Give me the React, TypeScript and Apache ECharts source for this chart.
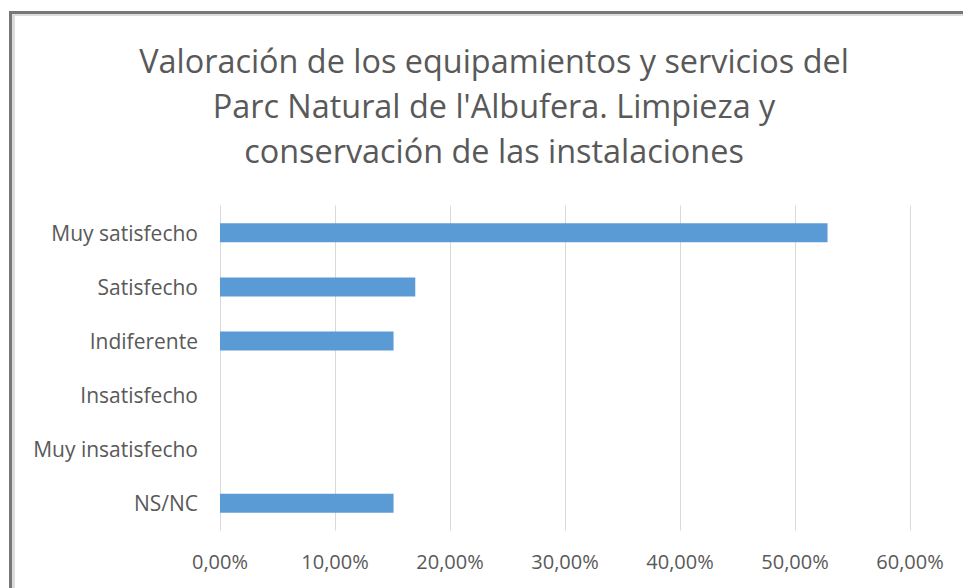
import React, { useEffect, useRef } from "react";
import * as echarts from "echarts";

const categories = [
  "Muy satisfecho",
  "Satisfecho",
  "Indiferente",
  "Insatisfecho",
  "Muy insatisfecho",
  "NS/NC",
];
const values = [52.83, 16.98, 15.09, 0, 0, 15.09];
const xTicks = [0, 10, 20, 30, 40, 50, 60];
const titleLines = [
  "Valoración de los equipamientos y servicios del",
  "Parc Natural de l'Albufera. Limpieza y",
  "conservación de las instalaciones",
];

const TEXT = "#595959";
const FONT = "'Open Sans', 'Noto Sans', sans-serif";

export default function App() {
  const ref = useRef<HTMLDivElement>(null);
  useEffect(() => {
    if (!ref.current) return;
    const chart = echarts.init(ref.current, undefined, { renderer: "svg" });
    chart.setOption({
      animation: false,
      backgroundColor: "#ffffff",
      grid: { left: 220, right: 53, top: 205.7, bottom: 57.6, containLabel: false },
      graphic: [
        { type: "rect", shape: { x: 9, y: 11, width: 960, height: 3 }, style: { fill: "#777777" } },
        { type: "rect", shape: { x: 9, y: 11, width: 3, height: 580 }, style: { fill: "#777777" } },
        { type: "rect", shape: { x: 12, y: 14, width: 955, height: 2 }, style: { fill: "#dcdcdc" } },
        { type: "rect", shape: { x: 12, y: 14, width: 3, height: 580 }, style: { fill: "#dcdcdc" } },
        {
          type: "text",
          x: 494,
          y: 105,
          style: {
            text: titleLines.join("\n"),
            fill: TEXT,
            fontSize: 32.4,
            fontFamily: FONT,
            lineHeight: 45,
            align: "center",
            verticalAlign: "middle",
          },
        },
      ],
      xAxis: {
        type: "value",
        min: xTicks[0],
        max: xTicks[xTicks.length - 1],
        interval: xTicks[1] - xTicks[0],
        axisLine: { show: false },
        axisTick: { show: false },
        splitLine: { show: true, lineStyle: { color: "#d9d9d9", width: 1 } },
        axisLabel: {
          color: TEXT,
          fontSize: 20,
          fontFamily: FONT,
          margin: 21,
          formatter: (v: number) => v.toFixed(2).replace(".", ",") + "%",
        },
      },
      yAxis: {
        type: "category",
        data: categories,
        inverse: true,
        axisLine: { show: false },
        axisTick: { show: false },
        splitLine: { show: false },
        axisLabel: { color: TEXT, fontSize: 21, fontFamily: FONT, margin: 22 },
      },
      series: [
        {
          type: "bar",
          data: values,
          barWidth: 19,
          itemStyle: { color: "#5b9bd5" },
        },
      ],
    });
    return () => chart.dispose();
  }, []);
  return (
    <div
      ref={ref}
      style={{ position: "fixed", left: 0, top: 0, width: 963, height: 588 }}
    />
  );
}
